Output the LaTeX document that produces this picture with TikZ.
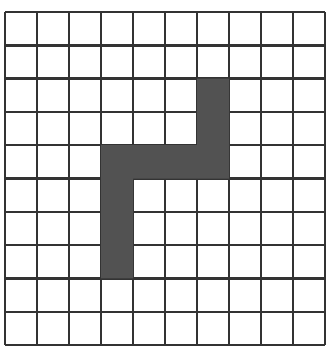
\documentclass[tikz,border=0pt]{standalone}
\begin{document}
\begin{tikzpicture}[x=0.75pt,y=-0.75pt,
  gridline/.style={line width=1.8pt,draw=black!80},
  shade/.style={fill=black!68}]
\useasboundingbox (0,0) rectangle (327,354);
\foreach \i in {0,...,10}
  \draw[gridline] ({5+32*\i},12) -- ({5+32*\i},345);
\foreach \j in {0,...,10}
  \draw[gridline] (5,{12+33.3*\j}) -- (325,{12+33.3*\j});
\fill[shade] (197,78.6) -- (229,78.6) -- (229,178.5) -- (133,178.5) -- (133,278.4)
  -- (101,278.4) -- (101,145.2) -- (197,145.2) -- cycle;
\end{tikzpicture}
\end{document}
